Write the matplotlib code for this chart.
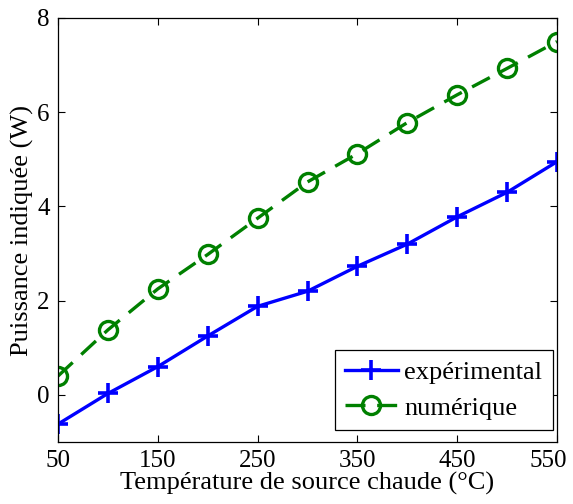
import numpy as np
import matplotlib
matplotlib.use("Agg")
import matplotlib.pyplot as plt
from matplotlib.transforms import ScaledTranslation

plt.rcParams['font.family'] = ['Liberation Serif', 'DejaVu Serif']

temp = [50, 100, 150, 200, 250, 300, 350, 400, 450, 500, 550]
p_exp = [-0.62, 0.03, 0.60, 1.25, 1.88, 2.20, 2.73, 3.20, 3.78, 4.30, 4.95]
p_num = [0.40, 1.38, 2.25, 2.98, 3.75, 4.52, 5.12, 5.78, 6.37, 6.93, 7.50]
xticks = [50, 150, 250, 350, 450, 550]
yticks = [0, 2, 4, 6, 8]

fig = plt.figure(figsize=(5.73, 5.04), dpi=100)
ax = fig.add_axes([58/573, 1-442/504, (557-58)/573, (442-18)/504])

ax.plot(temp, p_exp, '-', color='#0000ff', lw=2.4, marker='+',
        ms=14, mew=2.6, label='expérimental')
ax.plot(temp, p_num, '--', color='#008000', lw=2.4, marker='o',
        ms=13, mew=2.4, mfc='none', dashes=(6, 3.5), label='numérique')

ax.set_xlim(50, 550)
ax.set_ylim(-1, 8)
ax.set_xticks(xticks)
ax.set_yticks(yticks)
ax.tick_params(direction='in', top=True, right=True, labelsize=18,
               length=5, width=0.8, pad=6)
for s in ax.spines.values():
    s.set_linewidth(0.9)
ax.set_xlabel('Température de source chaude (°C)', fontsize=19, labelpad=0)
ax.set_ylabel('Puissance indiquée (W)', fontsize=19, labelpad=2)

# keep the last x tick label inside the picture
lab = ax.get_xticklabels()[-1]
lab.set_transform(lab.get_transform() + ScaledTranslation(-6/72, 0, fig.dpi_scale_trans))

leg = ax.legend(loc='lower right', bbox_to_anchor=(0.992, 0.028),
                fontsize=19, fancybox=False, edgecolor='black',
                framealpha=1, borderaxespad=0, handlelength=2.0,
                handletextpad=0.25, borderpad=0.4, labelspacing=0.45)
leg.get_frame().set_linewidth(0.9)

fig.savefig('out.png', dpi=100)
